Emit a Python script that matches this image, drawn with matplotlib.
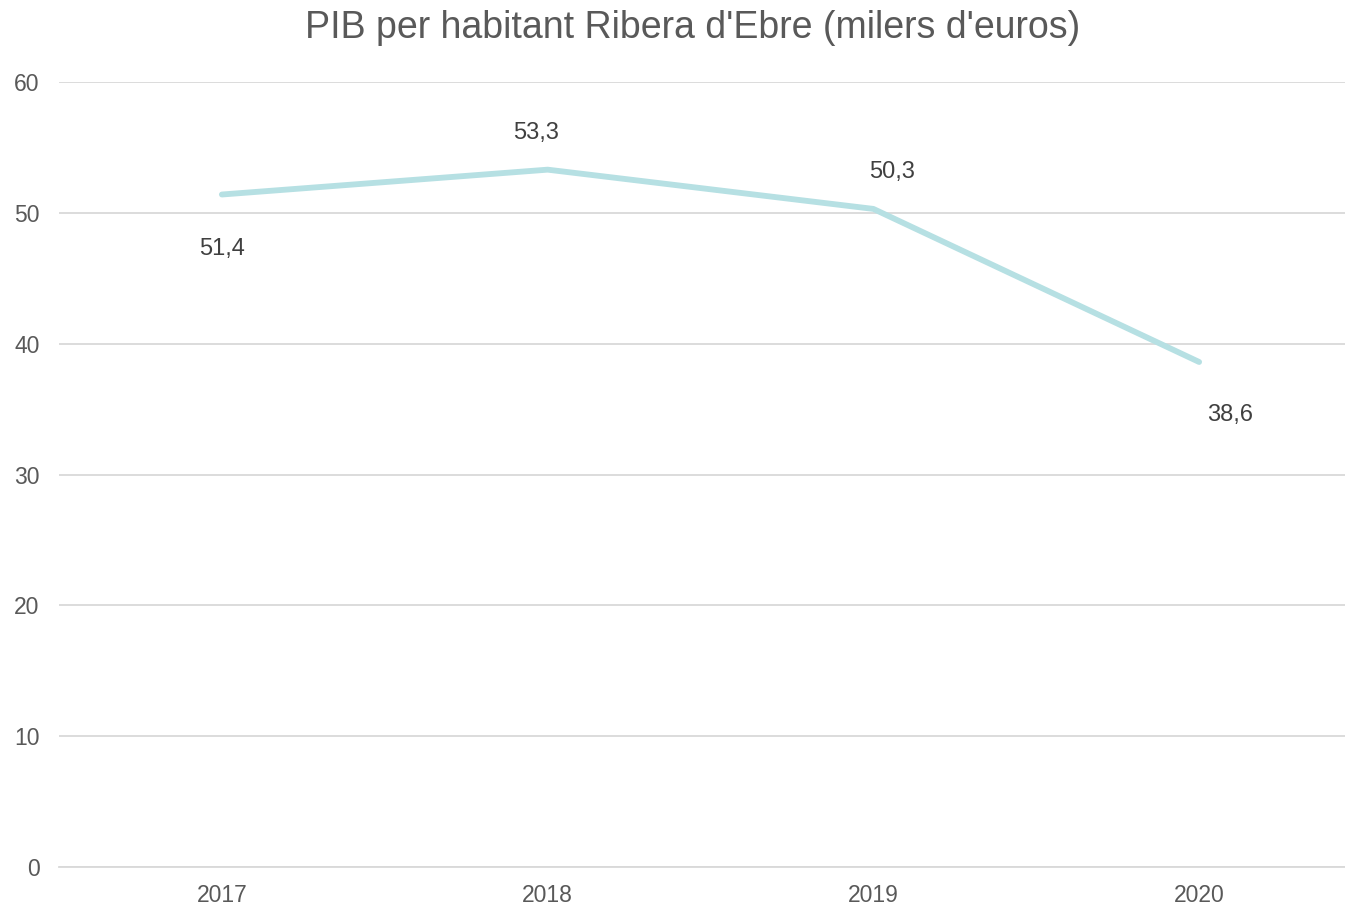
import matplotlib
matplotlib.use("agg")
import matplotlib.pyplot as plt

years = ['2017', '2018', '2019', '2020']
pib = [51.4, 53.3, 50.3, 38.6]
labels = ['51,4', '53,3', '50,3', '38,6']

# label offsets from the point, in pixels (x right, y up)
label_offsets = [(0, -54), (-12, 37), (19, 37), (31, -53)]

plt.rcParams['font.family'] = ['Liberation Sans', 'DejaVu Sans']

fig = plt.figure(figsize=(13.45, 9.06), dpi=100)
# axes spans pixel x 59..1345, y 82..867
ax = fig.add_axes([59/1345, (906-867)/906, (1345-59)/1345, (867-82)/906])

x = list(range(len(years)))
ax.plot(x, pib, color='#b6e0e3', linewidth=4.2, solid_capstyle='round', zorder=3)

for xi, v, lab, off in zip(x, pib, labels, label_offsets):
    ax.annotate(lab, (xi, v), xytext=(off[0]*0.72, off[1]*0.72), textcoords='offset points',
                ha='center', va='center', fontsize=17, color='#404040')

ax.set_ylim(0, 60)
ax.set_yticks(range(0, 61, 10))
ax.set_xlim(-0.5, 3.5 - 17/325.7)
ax.set_xticks(x)
ax.set_xticklabels(years)
ax.grid(axis='y', color='#d9d9d9', linewidth=1.3)
ax.set_axisbelow(True)
for s in ['top', 'right', 'left']:
    ax.spines[s].set_visible(False)
ax.spines['bottom'].set_color('#d9d9d9')
ax.spines['bottom'].set_linewidth(1.3)
ax.tick_params(axis='both', length=0, labelsize=16.5, labelcolor='#595959')
ax.tick_params(axis='y', pad=14)
ax.tick_params(axis='x', pad=12)

fig.text(693/1345, 1 - 28/906, "PIB per habitant Ribera d'Ebre (milers d'euros)",
         ha='center', va='center', fontsize=27, color='#595959')

plt.savefig('out.png', dpi=100)
plt.close()
